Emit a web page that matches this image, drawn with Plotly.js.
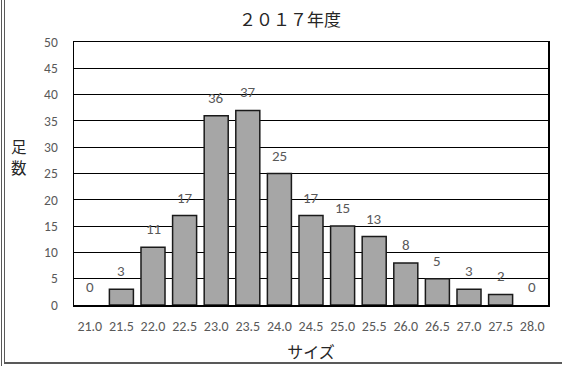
<!DOCTYPE html>
<html>
<head>
<meta charset="utf-8">
<script src="https://cdn.plot.ly/plotly-3.0.1.min.js"></script>
<style>
  html, body { margin: 0; padding: 0; background: #fff; }
  #wrap { position: relative; width: 562px; height: 366px; overflow: hidden; }
  #chart { position: absolute; left: 0; top: 0; width: 562px; height: 366px; }
  .frame { position: absolute; background: #595959; pointer-events: none; }
</style>
</head>
<body>
<div id="wrap">
  <div id="chart"></div>
  <!-- chart frame: double rule on the left, single rule along the bottom -->
  <div class="frame" style="left:1px; top:0; width:1px; height:366px;"></div>
  <div class="frame" style="left:4px; top:0; width:1px; height:363px;"></div>
  <div class="frame" style="left:4px; top:362px; width:558px; height:2px;"></div>
</div>
<script>
// shoe sizes and number of pairs
const sizes = ["21.0","21.5","22.0","22.5","23.0","23.5","24.0","24.5","25.0","25.5","26.0","26.5","27.0","27.5","28.0"];
const pairs = [0, 3, 11, 17, 36, 37, 25, 17, 15, 13, 8, 5, 3, 2, 0];
const yTicks = [0, 5, 10, 15, 20, 25, 30, 35, 40, 45, 50];
const yTitleChars = ["足", "数"];

const labelColor = "#595959";
const latin = "Carlito, 'Open Sans', 'Liberation Sans', sans-serif";
const cjk = "'Noto Sans CJK JP', sans-serif";

const trace = {
  type: "bar",
  x: sizes,
  y: pairs,
  marker: {
    color: "#a6a6a6",
    // no outline on empty bars so nothing is drawn at the baseline
    line: { color: "#1a1a1a", width: pairs.map(v => (v > 0 ? 1.5 : 0)) }
  },
  hoverinfo: "x+y"
};

// value labels sit a little above each bar (x is the category index)
const valueLabels = pairs.map((v, i) => ({
  x: i, y: v,
  xref: "x", yref: "y",
  text: String(v),
  showarrow: false,
  xanchor: "center", yanchor: "bottom",
  yshift: 7,
  font: { family: latin, size: 15, color: labelColor }
}));

// y title written top to bottom, one character per line
const yTitle = yTitleChars.map((ch, i) => ({
  text: ch,
  xref: "paper", yref: "paper",
  x: (19 - 74) / 474, y: (305 - (146 + i * 21)) / 263,
  xanchor: "center", yanchor: "middle",
  showarrow: false,
  borderpad: 0,
  font: { family: cjk, size: 15.5, color: "#262626" }
}));

const layout = {
  width: 562,
  height: 366,
  margin: { l: 74, r: 14, t: 42, b: 61 },
  paper_bgcolor: "#ffffff",
  plot_bgcolor: "#ffffff",
  showlegend: false,
  bargap: 0.24,
  title: {
    text: "２０１７年度",
    font: { family: cjk, size: 17, color: "#262626" },
    xref: "container", x: 290 / 562, xanchor: "center",
    y: 1 - 20 / 366, yanchor: "middle"
  },
  xaxis: {
    type: "category",
    categoryorder: "array",
    categoryarray: sizes,
    range: [-0.5, sizes.length - 0.5],
    tickangle: 0,
    tickfont: { family: latin, size: 14, color: labelColor },
    ticks: "",
    ticklabelstandoff: 8,
    showgrid: false,
    showline: true, linecolor: "#000", linewidth: 1.5, mirror: true,
    title: { text: "サイズ", font: { family: cjk, size: 16, color: "#262626" }, standoff: 12 }
  },
  yaxis: {
    range: [0, 50],
    tickvals: yTicks,
    ticktext: yTicks.map(String),
    tickfont: { family: latin, size: 13.5, color: labelColor },
    ticks: "",
    ticklabelstandoff: 12,
    showgrid: true, gridcolor: "#000", gridwidth: 1,
    zeroline: false,
    showline: true, linecolor: "#000", linewidth: 1.5, mirror: true
  },
  annotations: valueLabels.concat(yTitle)
};

Plotly.newPlot("chart", [trace], layout, { displayModeBar: false, staticPlot: true });
</script>
</body>
</html>
